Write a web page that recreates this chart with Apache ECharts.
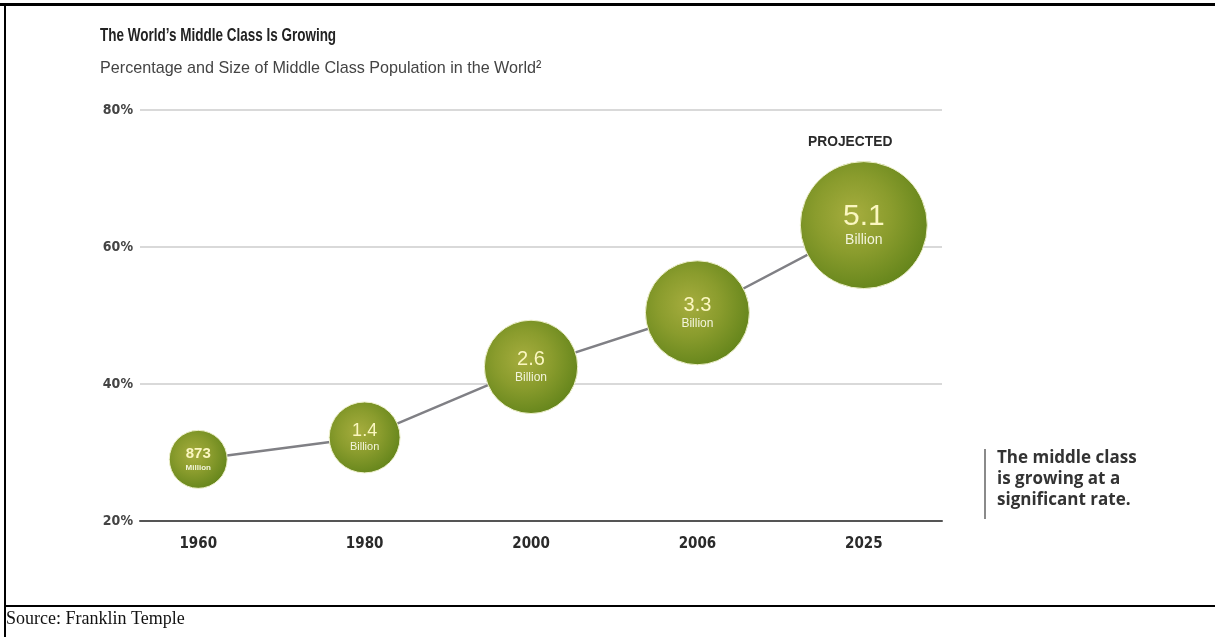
<!DOCTYPE html>
<html>
<head>
<meta charset="utf-8">
<script src="https://cdn.jsdelivr.net/npm/echarts@6/dist/echarts.min.js"></script>
<style>
html,body{margin:0;padding:0;background:#fff;}
#chart{width:1215px;height:637px;}
</style>
</head>
<body>
<div id="chart"></div>
<script>
// ---- data ----
const years = ['1960', '1980', '2000', '2006', '2025'];
const sharePct = [29, 32.2, 42.5, 50.4, 63.2];          // % of world population in middle class
const popBillions = [0.873, 1.4, 2.6, 3.3, 5.1];          // middle class size (billions)
const sizeLabels = ['873', '1.4', '2.6', '3.3', '5.1'];
const unitLabels = ['Million', 'Billion', 'Billion', 'Billion', 'Billion'];
const yTicks = [20, 40, 60, 80];
const titleText = 'The World\u2019s Middle Class Is Growing';
const subtitleText = 'Percentage and Size of Middle Class Population in the World\u00B2';
const noteLines = ['The middle class', 'is growing at a', 'significant rate.'];
const projectedText = 'PROJECTED';
const sourceText = 'Source: Franklin Temple';

// ---- styles ----
const numFont = [15, 18, 20, 20, 30];
const unitFont = [8, 11, 12, 12, 14];
const bubbleDiameter = p => 9.3 + 52.1 * Math.sqrt(p);

const chart = echarts.init(document.getElementById('chart'), null, {renderer: 'canvas'});

const points = years.map((y, i) => [i, sharePct[i]]);
const bubbleData = years.map((y, i) => ({
  value: [i, sharePct[i], popBillions[i]],
  label: {
    formatter: '{n|' + sizeLabels[i] + '}\n{u|' + unitLabels[i] + '}',
    rich: {
      n: {fontSize: numFont[i], color: '#fbf7c0', fontFamily: 'Liberation Sans, Arial, sans-serif', lineHeight: numFont[i] + 1, fontWeight: i === 0 ? 'bold' : 'normal'},
      u: {fontSize: unitFont[i], color: '#f3f4dc', fontFamily: 'Liberation Sans, Arial, sans-serif', lineHeight: unitFont[i] + 2, fontWeight: i === 0 ? 'bold' : 'normal'}
    }
  }
}));

const condensed = 'DejaVu Sans Condensed, Liberation Sans Narrow, sans-serif';

chart.setOption({
  backgroundColor: '#ffffff',
  animation: false,
  grid: {left: 140, right: 273, top: 110, bottom: 116, containLabel: false},
  xAxis: {
    type: 'value',
    min: -0.35,
    max: 4.47,
    splitLine: {show: false},
    axisLine: {show: true, onZero: false, lineStyle: {color: '#555', width: 2}},
    axisTick: {show: false},
    axisLabel: {
      customValues: years.map((y, i) => i),
      formatter: v => years[v] || '',
      color: '#2a2a2a',
      fontFamily: condensed,
      fontWeight: 'bold',
      fontSize: 15,
      margin: 16
    }
  },
  yAxis: {
    type: 'value',
    min: 20,
    max: 80,
    interval: 20,
    axisLine: {show: false},
    axisTick: {show: false},
    splitLine: {show: true, lineStyle: {color: '#d9d9d9', width: 2}},
    axisLabel: {
      formatter: v => yTicks.includes(v) ? v + '%' : '',
      color: '#444',
      fontFamily: condensed,
      fontWeight: 'bold',
      fontSize: 14,
      margin: 7
    }
  },
  series: [
    {
      type: 'line',
      data: points,
      symbol: 'none',
      lineStyle: {color: '#808085', width: 2.5},
      z: 2
    },
    {
      type: 'scatter',
      data: bubbleData,
      symbolSize: v => bubbleDiameter(v[2]),
      itemStyle: {
        opacity: 1,
        color: {
          type: 'radial', x: 0.42, y: 0.42, r: 0.6,
          colorStops: [
            {offset: 0, color: '#a6ad3e'},
            {offset: 0.5, color: '#8a9c2d'},
            {offset: 1, color: '#66861c'}
          ]
        },
        borderColor: '#eef0cc',
        borderWidth: 1
      },
      emphasis: {disabled: true},
      label: {show: true, position: 'inside', align: 'center', verticalAlign: 'middle'},
      z: 3
    }
  ],
  graphic: [
    {type: 'text', x: 100, y: 26, scaleX: 0.71, style: {text: titleText, font: 'bold 19px Liberation Sans, Arial, sans-serif', fill: '#222'}},
    {type: 'text', x: 100, y: 60, scaleX: 0.95, style: {text: subtitleText, font: '17px Liberation Sans, Arial, sans-serif', fill: '#444'}},
    {type: 'text', x: 808, y: 134, scaleX: 0.92, style: {text: projectedText, font: 'bold 15px Liberation Sans, Arial, sans-serif', fill: '#2a2a2a'}},
    {type: 'rect', shape: {x: 984, y: 449, width: 2, height: 70}, style: {fill: '#8a8a8a'}},
    {type: 'text', x: 997, y: 448, style: {text: noteLines.join('\n'), font: 'bold 17px Open Sans, sans-serif', lineHeight: 21, fill: '#333'}},
    // frame
    {type: 'rect', shape: {x: 0, y: 3, width: 1215, height: 3}, style: {fill: '#000'}},
    {type: 'rect', shape: {x: 4, y: 3, width: 2, height: 634}, style: {fill: '#000'}},
    {type: 'rect', shape: {x: 4, y: 605, width: 1211, height: 2}, style: {fill: '#000'}},
    {type: 'text', x: 6, y: 610, style: {text: sourceText, font: '18px Liberation Serif, DejaVu Serif, serif', fill: '#111'}}
  ]
});
</script>
</body>
</html>
